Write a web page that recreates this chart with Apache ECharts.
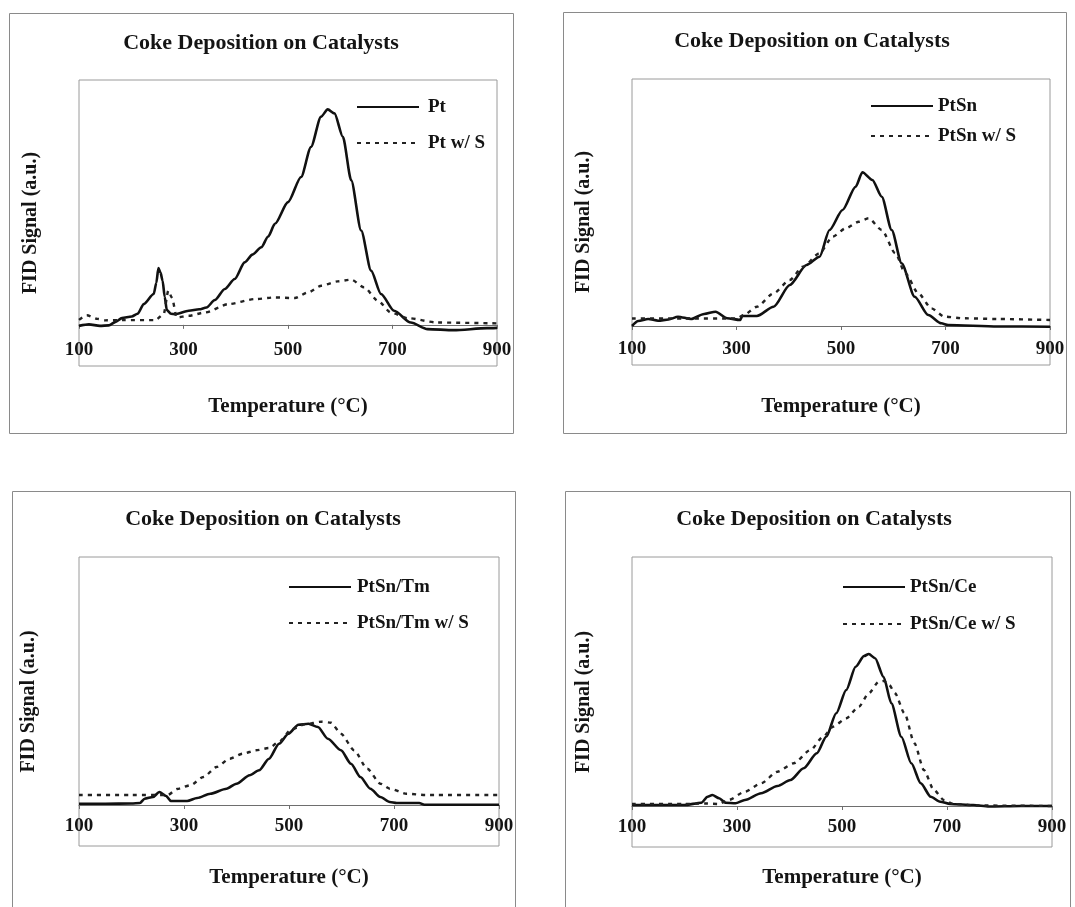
<!DOCTYPE html>
<html>
<head>
<meta charset="utf-8">
<script src="https://cdn.jsdelivr.net/npm/echarts/dist/echarts.min.js"></script>
<style>
html,body{margin:0;padding:0;background:#ffffff;}
#chart{width:1075px;height:907px;}
</style>
</head>
<body>
<div id="chart"></div>
<script>
// ---------------- data ----------------
const xTicks = [100, 300, 500, 700, 900];
const chartTitle = 'Coke Deposition on Catalysts';
const xAxisName = 'Temperature (°C)';
const yAxisName = 'FID Signal (a.u.)';

// [temperature °C, FID signal (a.u.)]
const pt = [[100,-1],[119,0.5],[140,-1],[157,-0.5],[170,3],[182,6.7],[201,8.3],[212,11],[224,20.7],[243,30.7],[248,42],[252,56.7],[256,52],[260,44],[264,28],[268,14.7],[276,11],[284,10.7],[310,14],[330,15.5],[344,17.3],[360,24.7],[379,35.7],[398,45.7],[417,62.3],[432,70],[449,77.3],[462,88],[475,100.7],[500,122.3],[525,147.3],[544,177.3],[563,207.3],[576,214.7],[589,210.7],[605,187.3],[621,144],[640,94],[659,54],[678,30.7],[703,14],[735,2.3],[767,-4.3],[817,-5.3],[881,-3.3],[900,-3]];
const ptS = [[100,5],[115,9.5],[135,6],[150,4.5],[182,4.7],[246,4.7],[262,10.7],[271,34],[278,27],[287,7.3],[310,9],[341,12.3],[386,20.7],[437,25.7],[475,27.3],[513,26.7],[538,32.3],[564,39],[595,43.3],[621,45],[646,37.3],[672,24],[697,12.3],[729,6.7],[786,2.3],[900,1.5]];

const ptSn = [[100,0],[112,5],[131,7],[150,5.3],[170,6.5],[188,9.3],[213,7],[238,12],[260,14.3],[282,7.7],[307,6],[311,10],[339,10],[371,19.3],[402,41],[434,61],[459,69.3],[478,96],[503,116],[528,139.3],[541,153.7],[560,146],[578,129.3],[597,96],[616,62.7],[641,29.3],[667,11],[692,2.7],[705,1],[800,-0.5],[900,-0.7]];
const ptSnS = [[100,7.5],[200,7.5],[300,7.5],[314,11],[339,19.3],[371,32.7],[402,46],[427,59.3],[459,72.7],[484,89.3],[509,97.7],[534,104.3],[553,107.7],[578,96],[604,72.7],[623,52.7],[648,32.7],[673,17.7],[698,9.3],[736,7.7],[800,7],[900,6]];

const ptSnTm = [[100,1.3],[150,1.3],[200,1.5],[216,2],[225,6.3],[241,8],[253,13],[266,9],[275,4],[306,4],[325,7],[350,11.3],[381,16.3],[400,21.3],[425,29.7],[443,34.7],[462,46.3],[481,61.3],[499,71.3],[518,80.3],[537,81.3],[555,78],[574,66.3],[599,54.7],[618,41.3],[636,28],[655,16.3],[674,8],[692,3],[705,2],[748,2],[758,0.3],[900,0.3]];
const ptSnTmS = [[100,10],[200,10],[269,10],[287,16],[312,19.7],[337,28],[362,38],[387,46.3],[412,51.3],[437,54.7],[462,57],[481,63.3],[505,75.7],[530,80.7],[562,83.3],[580,82.3],[599,71.3],[624,54.7],[649,36.3],[674,21.3],[692,16.3],[724,11.3],[760,10],[900,10]];

const ptSnCe = [[100,1],[150,1],[200,1],[232,3.3],[244,9.3],[253,11],[266,7.7],[278,3.3],[297,2.7],[315,6],[346,12.7],[377,20],[402,26],[427,37.7],[452,52.7],[470,69.3],[489,92.7],[508,116],[526,139.3],[542,150],[551,152],[563,147.7],[579,129.3],[594,102.7],[613,69.3],[632,42.7],[650,22.7],[669,9.3],[687,4.3],[706,2],[750,1],[780,-0.5],[840,0],[900,0]];
const ptSnCeS = [[100,2],[200,2],[240,2.5],[265,2],[284,6],[315,14.3],[346,22.7],[377,34.3],[408,42.7],[440,56],[464,69.3],[483,79.3],[508,87.7],[532,99.3],[551,112.7],[570,124.3],[580,125],[590,121],[601,112.7],[619,92.7],[638,62.7],[656,36],[675,16],[694,6],[712,2],[760,0.5],[900,0]];

const seriesNames = [
  ['Pt', 'Pt w/ S'],
  ['PtSn', 'PtSn w/ S'],
  ['PtSn/Tm', 'PtSn/Tm w/ S'],
  ['PtSn/Ce', 'PtSn/Ce w/ S']
];
const seriesData = [[pt, ptS], [ptSn, ptSnS], [ptSnTm, ptSnTmS], [ptSnCe, ptSnCeS]];

// ---------------- layout ----------------
const FONT = "'Liberation Serif', 'Times New Roman', serif";
const panels = [
  {grid:{left:79, top:80, width:418, height:286}, ymin:-41, ymax:244, title:[261,32], legend:[356,97,16,4], yGap:38, xGap:30, lblMargin:-25, frame:[9,13,504,420]},
  {grid:{left:632, top:79, width:418, height:286}, ymin:-39, ymax:247, title:[812,30], legend:[870,96,10,0], yGap:38, xGap:31, lblMargin:-25, frame:[563,12,503,421]},
  {grid:{left:79, top:557, width:420, height:289}, ymin:-41, ymax:248, title:[263,508], legend:[288,577,16,1], yGap:40, xGap:21, lblMargin:-29, frame:[12,491,503,430]},
  {grid:{left:632, top:557, width:420, height:290}, ymin:-41, ymax:249, title:[814,508], legend:[842,577,17,0], yGap:38, xGap:20, lblMargin:-29, frame:[565,491,505,430]}
];

const option = {
  backgroundColor: '#ffffff',
  animation: false,
  title: [], legend: [], grid: [], xAxis: [], yAxis: [], series: [], graphic: []
};

panels.forEach((p, i) => {
  option.graphic.push({
    type: 'rect', silent: true,
    shape: {x: p.frame[0] + 0.5, y: p.frame[1] + 0.5, width: p.frame[2], height: p.frame[3]},
    style: {fill: 'none', stroke: '#8a8a8a', lineWidth: 1}
  });
  option.title.push({
    text: chartTitle, left: p.title[0], top: p.title[1], textAlign: 'center', padding: 0,
    textStyle: {fontFamily: FONT, fontWeight: 'bold', fontSize: 22, color: '#141414'}
  });
  option.grid.push(Object.assign({show: true, borderColor: '#9a9a9a', borderWidth: 1, backgroundColor: 'transparent'}, p.grid));
  option.xAxis.push({
    gridIndex: i, type: 'value', min: xTicks[0], max: xTicks[xTicks.length - 1],
    interval: xTicks[1] - xTicks[0],
    name: xAxisName, nameLocation: 'middle', nameGap: p.xGap,
    nameTextStyle: {fontFamily: FONT, fontWeight: 'bold', fontSize: 21, color: '#141414'},
    axisLine: {show: true, onZero: true, lineStyle: {color: '#6e6e6e', width: 1}},
    axisTick: {show: true, length: 4, lineStyle: {color: '#6e6e6e'}},
    axisLabel: {margin: p.lblMargin, fontFamily: FONT, fontWeight: 'bold', fontSize: 19, color: '#141414'},
    splitLine: {show: false}
  });
  option.yAxis.push({
    gridIndex: i, type: 'value', min: p.ymin, max: p.ymax,
    name: yAxisName, nameLocation: 'middle', nameRotate: 90, nameGap: p.yGap,
    nameTextStyle: {fontFamily: FONT, fontWeight: 'bold', fontSize: 20, color: '#141414'},
    axisLine: {show: false}, axisTick: {show: false}, axisLabel: {show: false}, splitLine: {show: false}
  });
  option.legend.push({
    orient: 'vertical', left: p.legend[0], top: p.legend[1], itemGap: p.legend[2], padding: 0,
    itemWidth: 62, itemHeight: 20, selectedMode: false,
    itemStyle: {opacity: 0},
    data: seriesNames[i],
    textStyle: {fontFamily: FONT, fontWeight: 'bold', fontSize: 19, color: '#141414', lineHeight: 20, padding: [0, 0, 0, p.legend[3]]}
  });
  seriesNames[i].forEach((nm, k) => {
    option.series.push({
      name: nm, type: 'line', xAxisIndex: i, yAxisIndex: i,
      data: seriesData[i][k], symbol: 'none', showSymbol: false,
      smooth: 0.25, smoothMonotone: 'x',
      lineStyle: k === 0 ? {color: '#111111', width: 2.6, type: 'solid'} : {color: '#222222', width: 2.4, type: [4, 5]},
      itemStyle: {color: k === 0 ? '#111111' : '#222222'}
    });
  });
});

const chart = echarts.init(document.getElementById('chart'), null, {renderer: 'canvas'});
chart.setOption(option);
</script>
</body>
</html>
